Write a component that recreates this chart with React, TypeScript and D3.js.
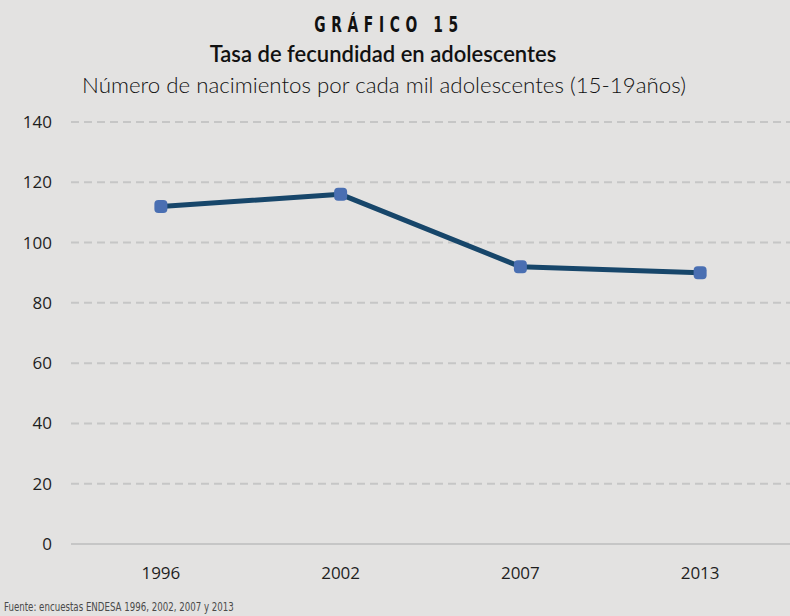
import React, { useEffect, useRef } from "react";
import * as d3 from "d3";

const years = ["1996", "2002", "2007", "2013"];
const rates = [112, 116, 92, 90];
const yTicks = [0, 20, 40, 60, 80, 100, 120, 140];

const W = 790;
const H = 616;

export default function App() {
  const ref = useRef<SVGSVGElement | null>(null);

  useEffect(() => {
    const svg = d3.select(ref.current);
    svg.selectAll("*").remove();

    const margin = { top: 122, right: 0, bottom: 72, left: 71 };

    const x = d3.scaleBand()
      .domain(years)
      .range([margin.left, W - margin.right]);

    const y = d3.scaleLinear()
      .domain([0, 140])
      .range([H - margin.bottom, margin.top]);

    svg.append("rect")
      .attr("width", W)
      .attr("height", H)
      .attr("fill", "#e3e2e1");

    // titles
    svg.append("text")
      .attr("transform", "translate(389,32) scale(0.7,1)")
      .attr("text-anchor", "middle")
      .attr("font-family", "DejaVu Sans")
      .attr("font-stretch", "condensed")
      .attr("font-weight", "bold")
      .attr("font-size", 22)
      .attr("letter-spacing", 8)
      .attr("fill", "#111")
      .text("GRÁFICO 15");

    svg.append("text")
      .attr("x", 383)
      .attr("y", 62)
      .attr("text-anchor", "middle")
      .attr("font-family", "Lato")
      .attr("font-weight", 600)
      .attr("font-size", 22)
      .attr("fill", "#111")
      .text("Tasa de fecundidad en adolescentes");

    svg.append("text")
      .attr("x", 384)
      .attr("y", 93)
      .attr("text-anchor", "middle")
      .attr("font-family", "Lato")
      .attr("font-weight", 300)
      .attr("font-size", 22.3)
      .attr("fill", "#111")
      .text("Número de nacimientos por cada mil adolescentes (15-19años)");

    // grid
    svg.append("g")
      .selectAll("line")
      .data(yTicks.filter(d => d > 0))
      .join("line")
      .attr("x1", margin.left)
      .attr("x2", W)
      .attr("y1", d => y(d))
      .attr("y2", d => y(d))
      .attr("stroke", "#c6c6c6")
      .attr("stroke-width", 2)
      .attr("stroke-dasharray", "8,5");

    svg.append("line")
      .attr("x1", margin.left)
      .attr("x2", W)
      .attr("y1", y(0))
      .attr("y2", y(0))
      .attr("stroke", "#c6c6c6")
      .attr("stroke-width", 2);

    // y labels
    svg.append("g")
      .selectAll("text")
      .data(yTicks)
      .join("text")
      .attr("x", 52)
      .attr("y", d => y(d) + 6)
      .attr("text-anchor", "end")
      .attr("font-family", "Open Sans")
      .attr("font-size", 17)
      .attr("fill", "#1e1e1e")
      .text(d => d);

    // x labels
    svg.append("g")
      .selectAll("text")
      .data(years)
      .join("text")
      .attr("x", d => (x(d) as number) + x.bandwidth() / 2)
      .attr("y", 579)
      .attr("text-anchor", "middle")
      .attr("font-family", "Open Sans")
      .attr("font-size", 17)
      .attr("fill", "#1e1e1e")
      .text(d => d);

    const cx = (i: number) => (x(years[i]) as number) + x.bandwidth() / 2;

    const line = d3.line<number>()
      .x((d, i) => cx(i))
      .y(d => y(d));

    svg.append("path")
      .datum(rates)
      .attr("d", line)
      .attr("fill", "none")
      .attr("stroke", "#17466a")
      .attr("stroke-width", 5)
      .attr("stroke-linejoin", "round");

    svg.append("g")
      .selectAll("rect")
      .data(rates)
      .join("rect")
      .attr("x", (d, i) => cx(i) - 6.5)
      .attr("y", d => y(d) - 6.5)
      .attr("width", 13)
      .attr("height", 13)
      .attr("rx", 4)
      .attr("fill", "#4a6fb2");

    // source
    svg.append("text")
      .attr("transform", "translate(4,611) scale(0.74,1)")
      .attr("font-family", "DejaVu Sans")
      .attr("font-stretch", "condensed")
      .attr("font-size", 13)
      .attr("fill", "#4a4a4a")
      .text("Fuente: encuestas ENDESA 1996, 2002, 2007 y 2013");
  }, []);

  return (
    <div style={{ position: "fixed", left: 0, top: 0 }}>
      <svg ref={ref} width={W} height={H} style={{ display: "block" }} />
    </div>
  );
}
